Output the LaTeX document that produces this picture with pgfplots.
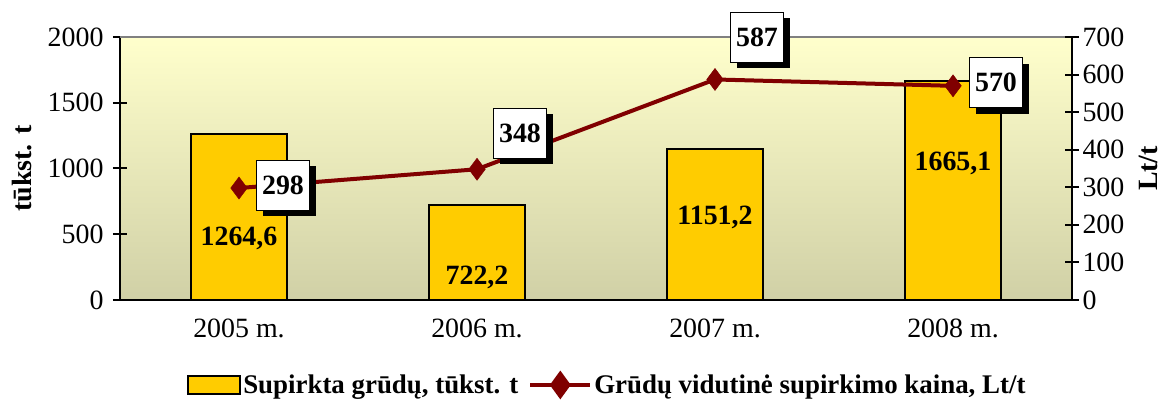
\documentclass[border=0pt]{standalone}
\usepackage{pgfplots}
\pgfplotsset{compat=1.18}
\usepackage{fontspec}
\setmainfont{Liberation Serif}
\usetikzlibrary{shadows}
\definecolor{baryellow}{RGB}{255,204,0}
\definecolor{linered}{RGB}{128,0,0}
\definecolor{bgtop}{RGB}{255,255,204}
\definecolor{bgbot}{RGB}{208,208,166}
\begin{document}
\begin{tikzpicture}
\path[use as bounding box] (-120bp,-101bp) rectangle (1049bp,300bp);
\tikzset{valbox/.style={draw=black, line width=1bp, fill=white, font=\fontsize{28}{30}\selectfont\bfseries,
  minimum width=53bp, minimum height=50bp, inner sep=2bp,
  drop shadow={shadow xshift=6bp, shadow yshift=-6bp, fill=black, opacity=1}}}
\begin{axis}[
  at={(0,0)}, anchor=south west,
  scale only axis, width=952bp, height=263bp,
  xmin=-0.5, xmax=3.5, ymin=0, ymax=2000,
  axis x line*=bottom, axis y line*=left,
  axis line style={line width=2bp, black},
  axis background/.style={top color=bgtop, bottom color=bgbot},
  xtick={0,1,2,3},
  xticklabels={2005 m.,2006 m.,2007 m.,2008 m.},
  major x tick style={draw=none},
  extra x ticks={-0.5,0.5,1.5,2.5,3.5},
  extra x tick labels={},
  extra x tick style={major tick length=18bp, tick style={line width=2bp, black}},
  ytick={0,500,...,2000},
  tick align=center,
  major tick length=14bp,
  tick style={line width=2bp, black},
  ticklabel style={font=\fontsize{28}{30}\selectfont},
  /pgf/number format/assume math mode=true,
  yticklabel style={/pgf/number format/1000 sep={}, xshift=-6bp},
  xticklabel style={yshift=-8bp},
  ylabel={tūkst. t},
  ylabel style={font=\fontsize{28}{30}\selectfont\bfseries, at={(axis description cs:-0.103,0.5)}, anchor=center},
  clip=false,
]
\draw[gray, line width=1.5bp] (rel axis cs:0,1) -- (rel axis cs:1,1);
\addplot[ybar, bar width=0.4, fill=baryellow, draw=black, line width=2bp] coordinates {(0,1264.6) (1,722.2) (2,1151.2) (3,1665.1)};
\node[font=\fontsize{28}{30}\selectfont\bfseries] at (axis cs:0,470) {1264,6};
\node[font=\fontsize{28}{30}\selectfont\bfseries] at (axis cs:1,175) {722,2};
\node[font=\fontsize{28}{30}\selectfont\bfseries] at (axis cs:2,631) {1151,2};
\node[font=\fontsize{28}{30}\selectfont\bfseries] at (axis cs:3,1042) {1665,1};
\end{axis}
\begin{axis}[
  at={(0,0)}, anchor=south west,
  scale only axis, width=952bp, height=263bp,
  xmin=-0.5, xmax=3.5, ymin=0, ymax=700,
  axis x line=none, axis y line*=right,
  axis line style={line width=2bp, black},
  ytick={0,100,...,700},
  tick align=center,
  major tick length=14bp,
  tick style={line width=2bp, black},
  ticklabel style={font=\fontsize{28}{30}\selectfont},
  /pgf/number format/assume math mode=true,
  ylabel={Lt/t},
  ylabel style={font=\fontsize{28}{30}\selectfont\bfseries, at={(axis description cs:1.08,0.5)}, anchor=center},
  clip=false,
  legend columns=2,
  legend style={at={(0.512,-0.323)}, anchor=center, draw=none, fill=none,
    font=\fontsize{27}{29}\selectfont\bfseries,
    /tikz/every even column/.append style={column sep=8bp},
    /tikz/every odd column/.append style={inner xsep=2bp}},
]
\addlegendimage{legend image code/.code={\draw[fill=baryellow, draw=black, line width=2bp] (0bp,-9bp) rectangle (52bp,9bp);}}
\addlegendentry{Supirkta grūdų, tūkst. t}
\addplot[color=linered, line width=4bp, mark=diamond*, mark size=11bp, mark options={fill=linered, draw=linered, line width=0.5bp},
  legend image code/.code={\draw[linered, line width=4bp] (0bp,0bp) -- (60bp,0bp); \fill[linered] (30bp,0bp) +(0,11bp) -- +(8bp,0) -- +(0,-11bp) -- +(-8bp,0) -- cycle;}]
  coordinates {(0,298) (1,348) (2,587) (3,570)};
\addlegendentry{Grūdų vidutinė supirkimo kaina, Lt/t}
\node[valbox] at (axis cs:0,298) [xshift=44bp, yshift=3bp] {298};
\node[valbox] at (axis cs:1,348) [xshift=43bp, yshift=36bp] {348};
\node[valbox] at (axis cs:2,587) [xshift=42bp, yshift=42bp] {587};
\node[valbox] at (axis cs:3,570) [xshift=43bp, yshift=3bp] {570};
\end{axis}
\end{tikzpicture}
\end{document}
